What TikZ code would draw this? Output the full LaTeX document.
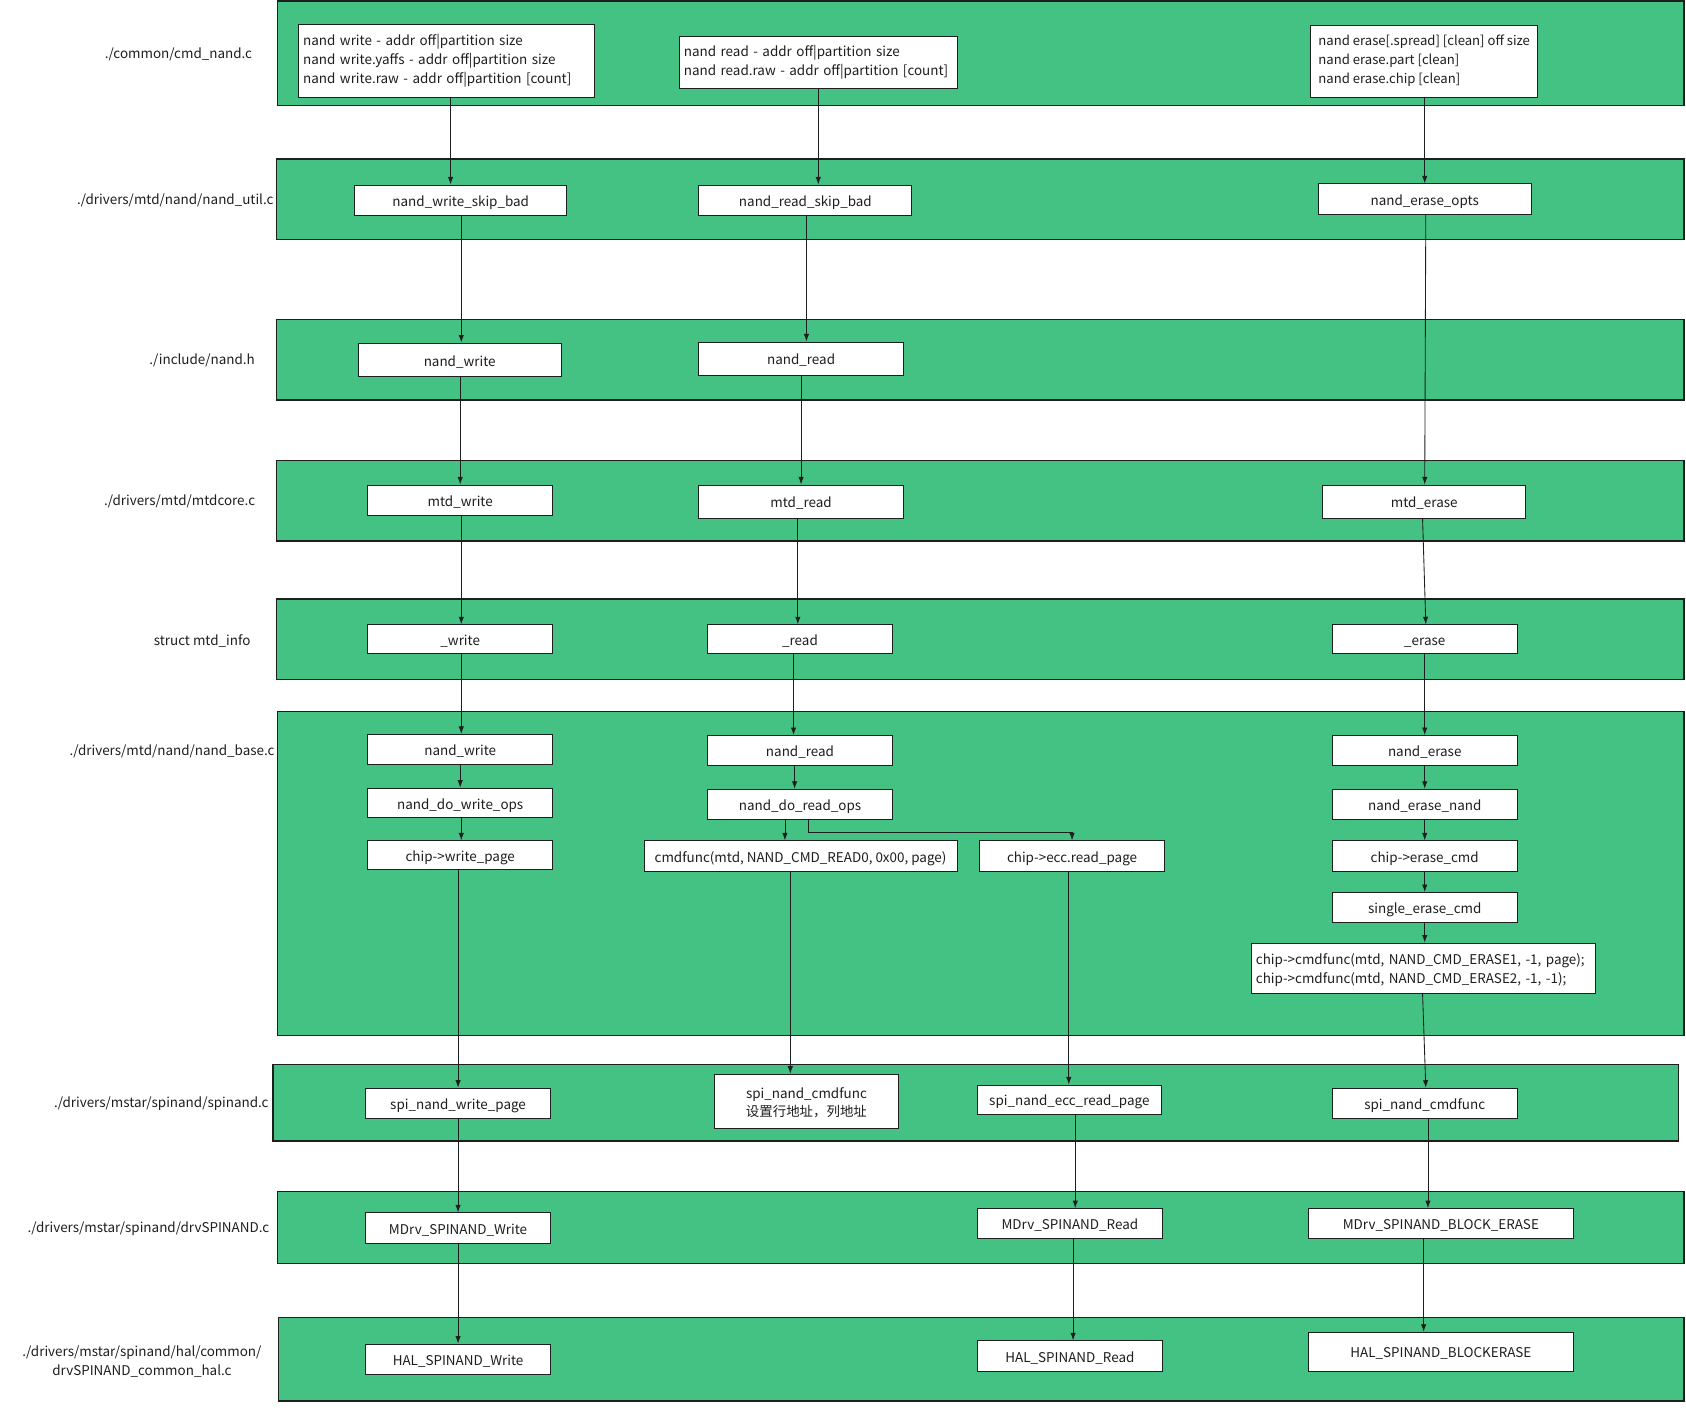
\documentclass[tikz,border=0pt]{standalone}
\usepackage{fontspec}
\setmainfont{Noto Sans CJK SC}
\usetikzlibrary{arrows.meta}
\definecolor{bandgreen}{RGB}{68,194,131}
\definecolor{ink}{RGB}{30,30,30}
\newcommand{\tst}{\rule{0pt}{15pt}}
\newcommand{\bst}[1]{\rule[-#1pt]{0pt}{1pt}}
\begin{document}
\begin{tikzpicture}[x=1pt,y=-1pt,
  every node/.style={font=\fontsize{12.5}{17.5}\selectfont,text=ink},
  band/.style={fill=bandgreen,draw=ink,line width=1.2pt},
  box/.style={draw=ink,fill=white,line width=0.8pt,inner sep=0pt,align=center,text height=13pt,text depth=1.2pt},
  mbox/.style={draw=ink,fill=white,line width=0.8pt,inner sep=0pt,align=center},
  lbox/.style={draw=ink,fill=white,line width=0.8pt,inner ysep=0pt,inner xsep=4pt,align=left},
  lbl/.style={align=center,inner sep=0pt,text height=10pt,text depth=1.6pt},
  mlbl/.style={align=center,inner sep=0pt},
  arr/.style={draw=ink,line width=0.8pt,-{Latex[length=7pt,width=5pt]}}]
\useasboundingbox (0,0) rectangle (1568,1316);
% bands
\path[band] (258,1) rectangle (1566,98);
\path[band] (257,148) rectangle (1566,223);
\path[band] (257,297) rectangle (1566,372);
\path[band] (257,428) rectangle (1566,503);
\path[band] (257,557) rectangle (1566,632);
\path[band] (258,662) rectangle (1566,963);
\path[band] (254,990) rectangle (1561,1061);
\path[band] (258,1108) rectangle (1566,1175);
\path[band] (259,1225) rectangle (1566,1303);
% labels
\node[lbl] (L1) at (166,50) {./common/cmd\_nand.c};
\node[lbl] (L2) at (163,186) {./drivers/mtd/nand/nand\_util.c};
\node[lbl] (L3) at (188,335) {./include/nand.h};
\node[lbl] (L4) at (167,466) {./drivers/mtd/mtdcore.c};
\node[lbl] (L5) at (188,596) {struct mtd\_info};
\node[lbl] (L6) at (160,698) {./drivers/mtd/nand/nand\_base.c};
\node[lbl] (L7) at (150,1026) {./drivers/mstar/spinand/spinand.c};
\node[lbl] (L8) at (138,1142) {./drivers/mstar/spinand/drvSPINAND.c};
\node[mlbl] (L9) at (132,1265) {\tst./drivers/mstar/spinand/hal/common/\\drvSPINAND\_common\_hal.c\bst{4}};
% band 1
\node[lbox,text width=267pt,minimum height=68pt] (cmdW) at (415.5,57) {\tst nand write - addr off|partition size\\nand write.yaffs - addr off|partition size\\nand write.raw - addr off|partition [count]\bst{9.6}};
\node[lbox,text width=250pt,minimum height=48pt] (cmdR) at (761,58) {\tst nand read - addr off|partition size\\nand read.raw - addr off|partition [count]\bst{8}};
\node[lbox,inner xsep=0pt,minimum width=211pt,minimum height=67pt,font=\fontsize{12.2}{17.5}\selectfont] (cmdE) at (1324.5,57.5) {\tst nand erase[.spread] [clean] off size\\nand erase.part [clean]\\nand erase.chip [clean]\bst{9.6}};
% band 2
\node[box,minimum width=197pt,minimum height=28pt] (nwsb) at (428.5,186) {nand\_write\_skip\_bad};
\node[box,minimum width=198pt,minimum height=28pt] (nrsb) at (749,186) {nand\_read\_skip\_bad};
\node[box,minimum width=198pt,minimum height=28pt] (neo) at (1325,185) {nand\_erase\_opts};
% band 3
\node[box,minimum width=189pt,minimum height=31pt] (incW) at (427.5,334.5) {nand\_write};
\node[box,minimum width=190pt,minimum height=31pt] (incR) at (745,333.5) {nand\_read};
% band 4
\node[box,minimum width=172pt,minimum height=28pt] (mtdW) at (428,465) {mtd\_write};
\node[box,minimum width=190pt,minimum height=31pt] (mtdR) at (745,466.5) {mtd\_read};
\node[box,minimum width=189pt,minimum height=31pt] (mtdE) at (1324.5,466.5) {mtd\_erase};
% band 5
\node[box,minimum width=172pt,minimum height=27pt] (infW) at (428,594.5) {\_write};
\node[box,minimum width=172pt,minimum height=27pt] (infR) at (744,594.5) {\_read};
\node[box,minimum width=172pt,minimum height=27pt] (infE) at (1325,594.5) {\_erase};
% band 6
\node[box,minimum width=172pt,minimum height=28pt] (bW1) at (428,697) {nand\_write};
\node[box,minimum width=172pt,minimum height=27pt] (bW2) at (428,746.5) {nand\_do\_write\_ops};
\node[box,minimum width=172pt,minimum height=27pt] (bW3) at (428,795.5) {chip->write\_page};
\node[box,minimum width=172pt,minimum height=28pt] (bR1) at (744,698) {nand\_read};
\node[box,minimum width=172pt,minimum height=28pt] (bR2) at (744,748) {nand\_do\_read\_ops};
\node[box,minimum width=291pt,minimum height=28pt] (bR3) at (744.5,796) {cmdfunc(mtd, NAND\_CMD\_READ0, 0x00, page)};
\node[box,minimum width=172pt,minimum height=28pt] (bR4) at (997,796) {chip->ecc.read\_page};
\node[box,minimum width=172pt,minimum height=28pt] (bE1) at (1325,698) {nand\_erase};
\node[box,minimum width=172pt,minimum height=28pt] (bE2) at (1325,748) {nand\_erase\_nand};
\node[box,minimum width=172pt,minimum height=28pt] (bE3) at (1325,796) {chip->erase\_cmd};
\node[box,minimum width=172pt,minimum height=28pt] (bE4) at (1325,844) {single\_erase\_cmd};
\node[lbox,text width=312pt,minimum height=47pt] (bE5) at (1324,900.5) {\tst chip->cmdfunc(mtd, NAND\_CMD\_ERASE1, -1, page);\\chip->cmdfunc(mtd, NAND\_CMD\_ERASE2, -1, -1);\bst{4}};
% band 7
\node[box,minimum width=172pt,minimum height=28pt] (sW) at (426,1026) {spi\_nand\_write\_page};
\node[mbox,minimum width=172pt,minimum height=50pt] (sC) at (750,1024) {\tst spi\_nand\_cmdfunc\\设置行地址，列地址\bst{3}};
\node[box,minimum width=171pt,minimum height=27pt] (sR) at (994.5,1022.5) {spi\_nand\_ecc\_read\_page};
\node[box,minimum width=172pt,minimum height=28pt] (sE) at (1325,1026) {spi\_nand\_cmdfunc};
% band 8
\node[box,minimum width=172pt,minimum height=28pt] (dW) at (426,1142) {MDrv\_SPINAND\_Write};
\node[box,minimum width=172pt,minimum height=28pt] (dR) at (995,1138) {MDrv\_SPINAND\_Read};
\node[box,minimum width=246pt,minimum height=28pt] (dE) at (1340,1138) {MDrv\_SPINAND\_BLOCK\_ERASE};
% band 9
\node[box,minimum width=172pt,minimum height=28pt] (hW) at (426,1264) {HAL\_SPINAND\_Write};
\node[box,minimum width=172pt,minimum height=28pt] (hR) at (995,1261) {HAL\_SPINAND\_Read};
\node[box,minimum width=246pt,minimum height=36pt] (hE) at (1340,1257) {HAL\_SPINAND\_BLOCKERASE};
% write column
\draw[arr] ([xshift=3.5pt]cmdW.south) -- ([xshift=-9.5pt]nwsb.north);
\draw[arr] ([xshift=0.5pt]nwsb.south) -- ([xshift=1.5pt]incW.north);
\draw[arr] ([xshift=0.5pt]incW.south) -- (mtdW.north);
\draw[arr] ([xshift=1pt]mtdW.south) -- ([xshift=1pt]infW.north);
\draw[arr] ([xshift=1pt]infW.south) -- ([xshift=1pt]bW1.north);
\draw[arr] (bW1.south) -- (bW2.north);
\draw[arr] ([xshift=1pt]bW2.south) -- ([xshift=1pt]bW3.north);
\draw[arr] ([xshift=-2pt]bW3.south) -- (sW.north);
\draw[arr] (sW.south) -- (dW.north);
\draw[arr] (dW.south) -- (hW.north);
% read column
\draw[arr] (cmdR.south) -- ([xshift=12pt]nrsb.north);
\draw[arr] ([xshift=1pt]nrsb.south) -- ([xshift=5pt]incR.north);
\draw[arr] (incR.south) -- (mtdR.north);
\draw[arr] ([xshift=-3pt]mtdR.south) -- ([xshift=-2pt]infR.north);
\draw[arr] ([xshift=-6pt]infR.south) -- ([xshift=-6pt]bR1.north);
\draw[arr] ([xshift=-5pt]bR1.south) -- ([xshift=-5pt]bR2.north);
\draw[arr] ([xshift=-14pt]bR2.south) -- ([xshift=-14.5pt]bR3.north);
\draw[arr] ([xshift=8pt]bR2.south) -- ++(0,12) -| (bR4.north);
\draw[arr] ([xshift=-9.5pt]bR3.south) -- ([xshift=-15pt]sC.north);
\draw[arr] ([xshift=-3pt]bR4.south) -- ([xshift=-0.5pt]sR.north);
\draw[arr] ([xshift=5.5pt]sR.south) -- ([xshift=5pt]dR.north);
\draw[arr] ([xshift=3pt]dR.south) -- ([xshift=3pt]hR.north);
% erase column
\draw[arr] ([xshift=0.5pt]cmdE.south) -- (neo.north);
\draw[arr] ([xshift=1pt]neo.south) -- ([xshift=0.5pt]mtdE.north);
\draw[arr] ([xshift=-1.5pt]mtdE.south) -- ([xshift=1pt]infE.north);
\draw[arr] (infE.south) -- (bE1.north);
\draw[arr] (bE1.south) -- (bE2.north);
\draw[arr] (bE2.south) -- (bE3.north);
\draw[arr] (bE3.south) -- (bE4.north);
\draw[arr] (bE4.south) -- ([xshift=1pt]bE5.north);
\draw[arr] ([xshift=-1pt]bE5.south) -- ([xshift=1pt]sE.north);
\draw[arr] ([xshift=3pt]sE.south) -- ([xshift=-12pt]dE.north);
\draw[arr] ([xshift=-16pt]dE.south) -- ([xshift=-16pt]hE.north);
\end{tikzpicture}
\end{document}
